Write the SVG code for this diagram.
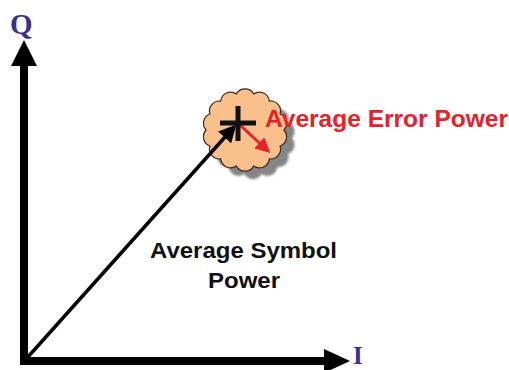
<svg xmlns="http://www.w3.org/2000/svg" width="509" height="370" viewBox="0 0 509 370">
<style>
.axis{stroke:#000;stroke-width:8;fill:none}
.head{fill:#000}
.axlbl{font-family:"Liberation Serif",serif;font-weight:bold;fill:#3b2f8a}
.lbl{font-family:"Liberation Sans",Arial,sans-serif;font-weight:bold}
</style>
<defs>
<marker id="blk" markerWidth="5" markerHeight="5" refX="4" refY="2.5" orient="auto" markerUnits="strokeWidth"><path d="M0,0 L5,2.5 L0,5 z" fill="#000"/></marker>
<marker id="red" markerWidth="5" markerHeight="5" refX="4" refY="2.5" orient="auto" markerUnits="strokeWidth"><path d="M0,0 L5,2.5 L0,5 z" fill="#e8202a"/></marker>
<path id="cloudShape" d="M284,130 A10,10 0 0 1 280.1,146 A10,10 0 0 1 269.3,158.9 A10,10 0 0 1 253.7,166.1 A10,10 0 0 1 236.3,166.1 A10,10 0 0 1 220.7,158.9 A10,10 0 0 1 209.9,146 A10,10 0 0 1 206,130 A10,10 0 0 1 209.9,114 A10,10 0 0 1 220.7,101.1 A10,10 0 0 1 236.3,93.9 A10,10 0 0 1 253.7,93.9 A10,10 0 0 1 269.3,101.1 A10,10 0 0 1 280.1,114 A10,10 0 0 1 284,130 Z"/>
<filter id="blur" x="-20%" y="-20%" width="140%" height="140%"><feGaussianBlur stdDeviation="1"/></filter>
</defs>
<g id="axes">
<g id="q-axis">
<line class="axis" x1="24" y1="365" x2="24" y2="64"/>
<polygon class="head" points="24,40 37,66 11,66"/>
<text class="axlbl" x="10" y="34" font-size="29">Q</text>
</g>
<g id="i-axis">
<line class="axis" x1="20" y1="361" x2="326" y2="361"/>
<polygon class="head" points="350,361 324,349 324,373"/>
<text class="axlbl" x="353" y="364" font-size="25">I</text>
</g>
</g>
<g id="cloud">
<use href="#cloudShape" transform="translate(8,8)" fill="#858585" filter="url(#blur)"/>
<use href="#cloudShape" fill="#f9c08c" stroke="#3a2a1a" stroke-width="1.2"/>
</g>
<g id="connectors">
<line x1="27" y1="358" x2="234" y2="127" stroke="#000" stroke-width="3.5" marker-end="url(#blk)"/>
<line x1="240" y1="125" x2="268" y2="151" stroke="#e8202a" stroke-width="3" marker-end="url(#red)"/>
</g>
<g id="cross">
<line x1="220" y1="123" x2="256" y2="123" stroke="#111" stroke-width="5"/>
<line x1="238" y1="106" x2="238" y2="141" stroke="#111" stroke-width="5"/>
</g>
<g id="error-label">
<text class="lbl" x="265" y="127" font-size="23" fill="#e8202a" textLength="243" lengthAdjust="spacingAndGlyphs">Average Error Power</text>
</g>
<g id="symbol-label">
<text class="lbl" x="150" y="258" font-size="22" fill="#111" textLength="187" lengthAdjust="spacingAndGlyphs">Average Symbol</text>
<text class="lbl" x="208" y="288" font-size="22" fill="#111" textLength="72" lengthAdjust="spacingAndGlyphs">Power</text>
</g>
</svg>
